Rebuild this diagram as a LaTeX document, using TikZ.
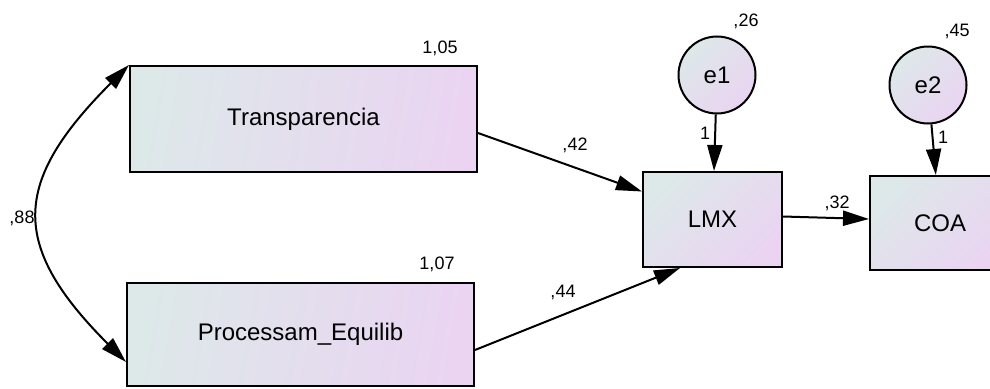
\documentclass[tikz,border=0pt]{standalone}
\usepackage{fontspec}
\setmainfont{Liberation Sans}
\usetikzlibrary{arrows.meta,shapes.geometric}
\definecolor{shadeA}{RGB}{221,232,233}
\definecolor{shadeB}{RGB}{234,212,242}
\tikzset{
  varbox/.style={draw=black, line width=2pt, rectangle, inner sep=0pt,
    left color=shadeA, right color=shadeB, shading angle=80,
    font=\fontsize{24}{28}\selectfont},
  smallbox/.style={varbox, shading angle=45},
  errcirc/.style={draw=black, line width=2pt, circle, inner sep=0pt,
    left color=shadeA, right color=shadeB, shading angle=45,
    minimum size=77pt, font=\fontsize{24}{28}\selectfont},
  est/.style={inner sep=0pt, font=\fontsize{18}{21}\selectfont},
  path/.style={line width=2pt, -{Triangle[length=26pt,width=15pt]}},
  covar/.style={line width=2pt, {Triangle[length=26pt,width=15pt]}-{Triangle[length=26pt,width=15pt]}}
}
\begin{document}
\begin{tikzpicture}[x=1pt, y=-1pt]
  \path[use as bounding box, clip] (0,0) rectangle (990,388);

  % observed variables
  \node[varbox, minimum width=347pt, minimum height=106pt] (T) at (303.5,119) {Transparencia};
  \node[varbox, minimum width=347pt, minimum height=103pt] (P) at (300.5,334.5) {Processam\_Equilib};
  \node[smallbox, minimum width=139pt, minimum height=95pt] (L) at (712.5,219.5) {LMX};
  \node[smallbox, minimum width=140pt, minimum height=94pt] (C) at (940,223) {COA};

  % error terms
  \node[errcirc] (e1) at (717,75) {e1};
  \node[errcirc] (e2) at (928,85) {e2};

  % regression paths
  \draw[path] ([yshift=-14pt]T.east) -- ([yshift=28pt]L.west);
  \draw[path] ([yshift=-15.5pt]P.east) -- ([xshift=-32.5pt]L.south);
  \draw[path] ([yshift=3pt]L.east) -- ([yshift=4pt]C.west);
  \draw[path] (e1) -- (L);
  \draw[path] (e2) -- (C);

  % covariance
  \draw[covar] (T.north west) .. controls +(-117,117) and +(-117,-117) .. ([yshift=-27.5pt]P.west);

  % estimates
  \node[est] (vT) at (440,48) {1,05};
  \node[est] (vP) at (437,264) {1,07};
  \node[est] (bT) at (575,145) {,42};
  \node[est] (bP) at (563,292) {,44};
  \node[est] (cov) at (22,218) {,88};
  \node[est] (v1) at (746,21) {,26};
  \node[est] (v2) at (957,31) {,45};
  \node[est] (bL) at (837,203) {,32};
  \node[est] (w1) at (705,133) {1};
  \node[est] (w2) at (943,137) {1};
\end{tikzpicture}
\end{document}
